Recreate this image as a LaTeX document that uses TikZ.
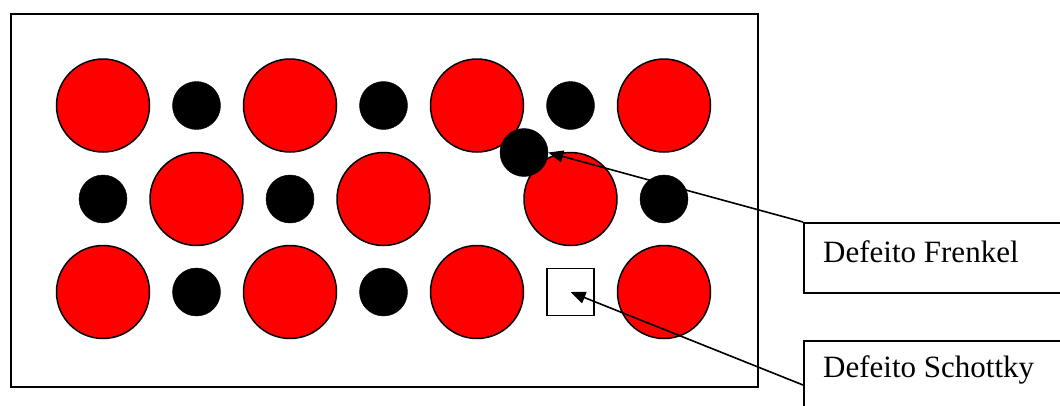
\documentclass[tikz,border=0pt]{standalone}
\usepackage{fontspec}
\setmainfont{Liberation Serif}
\usetikzlibrary{arrows.meta}
\begin{document}
\begin{tikzpicture}[x=1pt,y=-1pt,
  big/.style={circle,draw=black,line width=1.5pt,fill=red,minimum size=93pt,inner sep=0pt},
  small/.style={circle,draw=black,fill=black,minimum size=48pt,inner sep=0pt},
  vac/.style={rectangle,draw=black,line width=1.8pt,minimum size=47pt,inner sep=0pt},
  lbox/.style={rectangle,draw=black,line width=1.6pt,minimum width=280pt,minimum height=70pt,anchor=north west,inner sep=0pt},
  lbl/.style={anchor=base west,inner sep=0pt,font=\fontsize{31}{36}\selectfont},
  ptr/.style={line width=1.6pt,-{Triangle[length=15pt,width=12pt]}}]
\useasboundingbox (0,0) rectangle (1060,405);
\node[rectangle,draw=black,line width=2pt,minimum width=747.5pt,minimum height=373pt,anchor=north west,inner sep=0pt] (frame) at (9.5,12.5) {};
% row 1
\node[big] (r11) at (103,105.5) {};
\node[small] (b11) at (196.5,105.5) {};
\node[big] (r12) at (290,105.5) {};
\node[small] (b12) at (383.5,105.5) {};
\node[big] (r13) at (477,105.5) {};
\node[small] (b13) at (570.5,105.5) {};
\node[big] (r14) at (664,105.5) {};
% row 2
\node[small] (b21) at (103,199) {};
\node[big] (r21) at (196.5,199) {};
\node[small] (b22) at (290,199) {};
\node[big] (r22) at (383.5,199) {};
\node[big] (r23) at (570.5,199) {};
\node[small] (b23) at (664,199) {};
\node[small] (fr) at (524,152.5) {};
% row 3
\node[big] (r31) at (103,292) {};
\node[small] (b31) at (196.5,292) {};
\node[big] (r32) at (290,292) {};
\node[small] (b32) at (383.5,292) {};
\node[big] (r33) at (477,292) {};
\node[vac] (sq) at (570.5,292) {};
\node[big] (r34) at (664,292) {};
% label boxes
\node[lbox] (fbox) at (803,222) {};
\node[lbl] (ftext) at (823,262) {Defeito Frenkel};
\node[lbox] (sbox) at (803,340) {};
\node[lbl] (stext) at (823,377) {Defeito Schottky};
\coordinate (sstart) at (803,385);
% pointers
\draw[ptr] (fbox.north west) -- (fr.east);
\draw[ptr] (sstart) -- (sq.center);
\end{tikzpicture}
\end{document}
